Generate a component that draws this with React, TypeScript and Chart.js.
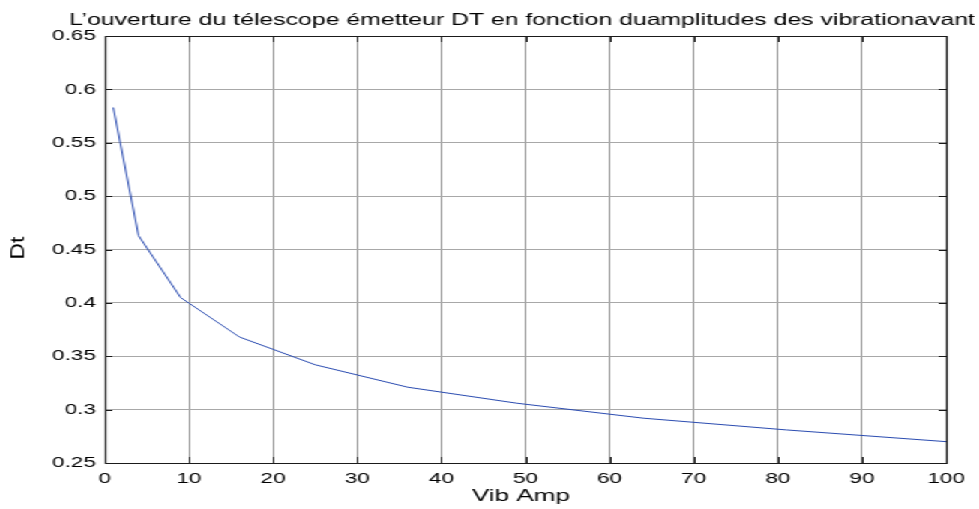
import React, { useEffect, useRef } from "react";
import { Chart, registerables } from "chart.js";

Chart.register(...registerables);

const titleText = "L’ouverture du télescope émetteur DT en fonction duamplitudes des vibrationavant";
const xAxisLabel = "Vib Amp";
const yAxisLabel = "Dt";
const vibAmp = [1, 4, 9, 16, 25, 36, 49, 64, 81, 100];
const dtValues = [0.583, 0.463, 0.405, 0.368, 0.342, 0.321, 0.306, 0.292, 0.281, 0.27];
const xTicks = [0, 10, 20, 30, 40, 50, 60, 70, 80, 90, 100];
const yTicks = [0.25, 0.3, 0.35, 0.4, 0.45, 0.5, 0.55, 0.6, 0.65];

const CSS_W = 979;
const H = 509;
const W = 653;
const SX = CSS_W / W;
const FONT = '"Liberation Sans", Arial, Helvetica, sans-serif';

const frame = {
  id: "matlabFrame",
  afterDatasetsDraw(chart: any) {
    const { ctx, chartArea } = chart;
    const { left, right, top, bottom } = chartArea;
    const xs = chart.scales.x;
    const ys = chart.scales.y;
    ctx.save();
    ctx.strokeStyle = "#1a1a1a";
    ctx.lineWidth = 1.2;
    ctx.beginPath();
    ctx.rect(Math.round(left) + 0.5, Math.round(top) + 0.5, Math.round(right) - Math.round(left), Math.round(bottom) - Math.round(top));
    ctx.stroke();
    ctx.lineWidth = 1;
    ctx.beginPath();
    for (const v of xTicks) {
      const px = Math.round(xs.getPixelForValue(v)) + 0.5;
      ctx.moveTo(px, bottom);
      ctx.lineTo(px, bottom - 6);
      ctx.moveTo(px, top);
      ctx.lineTo(px, top + 6);
    }
    for (const v of yTicks) {
      const py = Math.round(ys.getPixelForValue(v)) + 0.5;
      ctx.moveTo(left, py);
      ctx.lineTo(left + 5, py);
      ctx.moveTo(right, py);
      ctx.lineTo(right - 5, py);
    }
    ctx.stroke();
    ctx.restore();
  },
  afterDraw(chart: any) {
    const { ctx } = chart;
    ctx.save();
    ctx.fillStyle = "#000";
    // title
    ctx.font = `16.5px ${FONT}`;
    ctx.textAlign = "center";
    ctx.textBaseline = "alphabetic";
    let w = ctx.measureText(titleText).width;
    ctx.save();
    ctx.translate(522 / SX, 24.5);
    ctx.scale(604 / w, 1);
    ctx.fillText(titleText, 0, 0);
    ctx.restore();
    // x label
    ctx.font = `16px ${FONT}`;
    w = ctx.measureText(xAxisLabel).width;
    ctx.save();
    ctx.translate(521 / SX, 501);
    ctx.scale(65.5 / w, 1);
    ctx.fillText(xAxisLabel, 0, 0);
    ctx.restore();
    // y label
    ctx.font = `13px ${FONT}`;
    ctx.save();
    ctx.translate(19 / SX, 248);
    ctx.rotate(-Math.PI / 2);
    ctx.scale(1.75, 1);
    ctx.textBaseline = "middle";
    ctx.fillText(yAxisLabel, 0, 0);
    ctx.restore();
    ctx.restore();
  },
};

const fmt = (v: number) => String(+Number(v).toFixed(2));

export default function App() {
  const ref = useRef<HTMLCanvasElement | null>(null);
  useEffect(() => {
    if (!ref.current) return;
    const chart = new Chart(ref.current, {
      type: "line",
      data: {
        datasets: [
          {
            data: vibAmp.map((x, i) => ({ x, y: dtValues[i] })),
            borderColor: "#2a4bb0",
            borderWidth: 1,
            pointRadius: 0,
            tension: 0,
            fill: false,
          },
        ],
      },
      options: {
        animation: false,
        responsive: false,
        devicePixelRatio: 1,
        layout: { padding: { top: 36, right: 22, left: 0, bottom: 0 } },
        plugins: { legend: { display: false }, title: { display: false }, tooltip: { enabled: false } },
        scales: {
          x: {
            type: "linear",
            min: 0,
            max: 100,
            afterBuildTicks: (s: any) => {
              s.ticks = xTicks.map((v) => ({ value: v }));
            },
            afterFit: (s: any) => {
              s.height = 46;
            },
            grid: { color: "#8c8c8c", lineWidth: 1, drawTicks: false },
            border: { display: false },
            ticks: {
              padding: 7,
              maxRotation: 0,
              autoSkip: false,
              color: "#000",
              font: { family: FONT, size: 15 },
              callback: (v: any) => fmt(v),
            },
          },
          y: {
            type: "linear",
            min: 0.25,
            max: 0.65,
            afterBuildTicks: (s: any) => {
              s.ticks = yTicks.map((v) => ({ value: v }));
            },
            afterFit: (s: any) => {
              s.width = 70;
            },
            grid: { color: "#a8a8a8", lineWidth: 1, drawTicks: false },
            border: { display: false },
            ticks: {
              padding: 6,
              autoSkip: false,
              color: "#000",
              font: { family: FONT, size: 15 },
              callback: (v: any) => fmt(v),
            },
          },
        },
      },
      plugins: [frame],
    });
    return () => chart.destroy();
  }, []);
  return (
    <div
      style={{
        position: "absolute",
        left: 0,
        top: 0,
        width: W,
        height: H,
        transform: `scaleX(${SX})`,
        transformOrigin: "0 0",
        background: "#fff",
      }}
    >
      <canvas ref={ref} width={W} height={H} style={{ width: W, height: H, display: "block" }} />
    </div>
  );
}
